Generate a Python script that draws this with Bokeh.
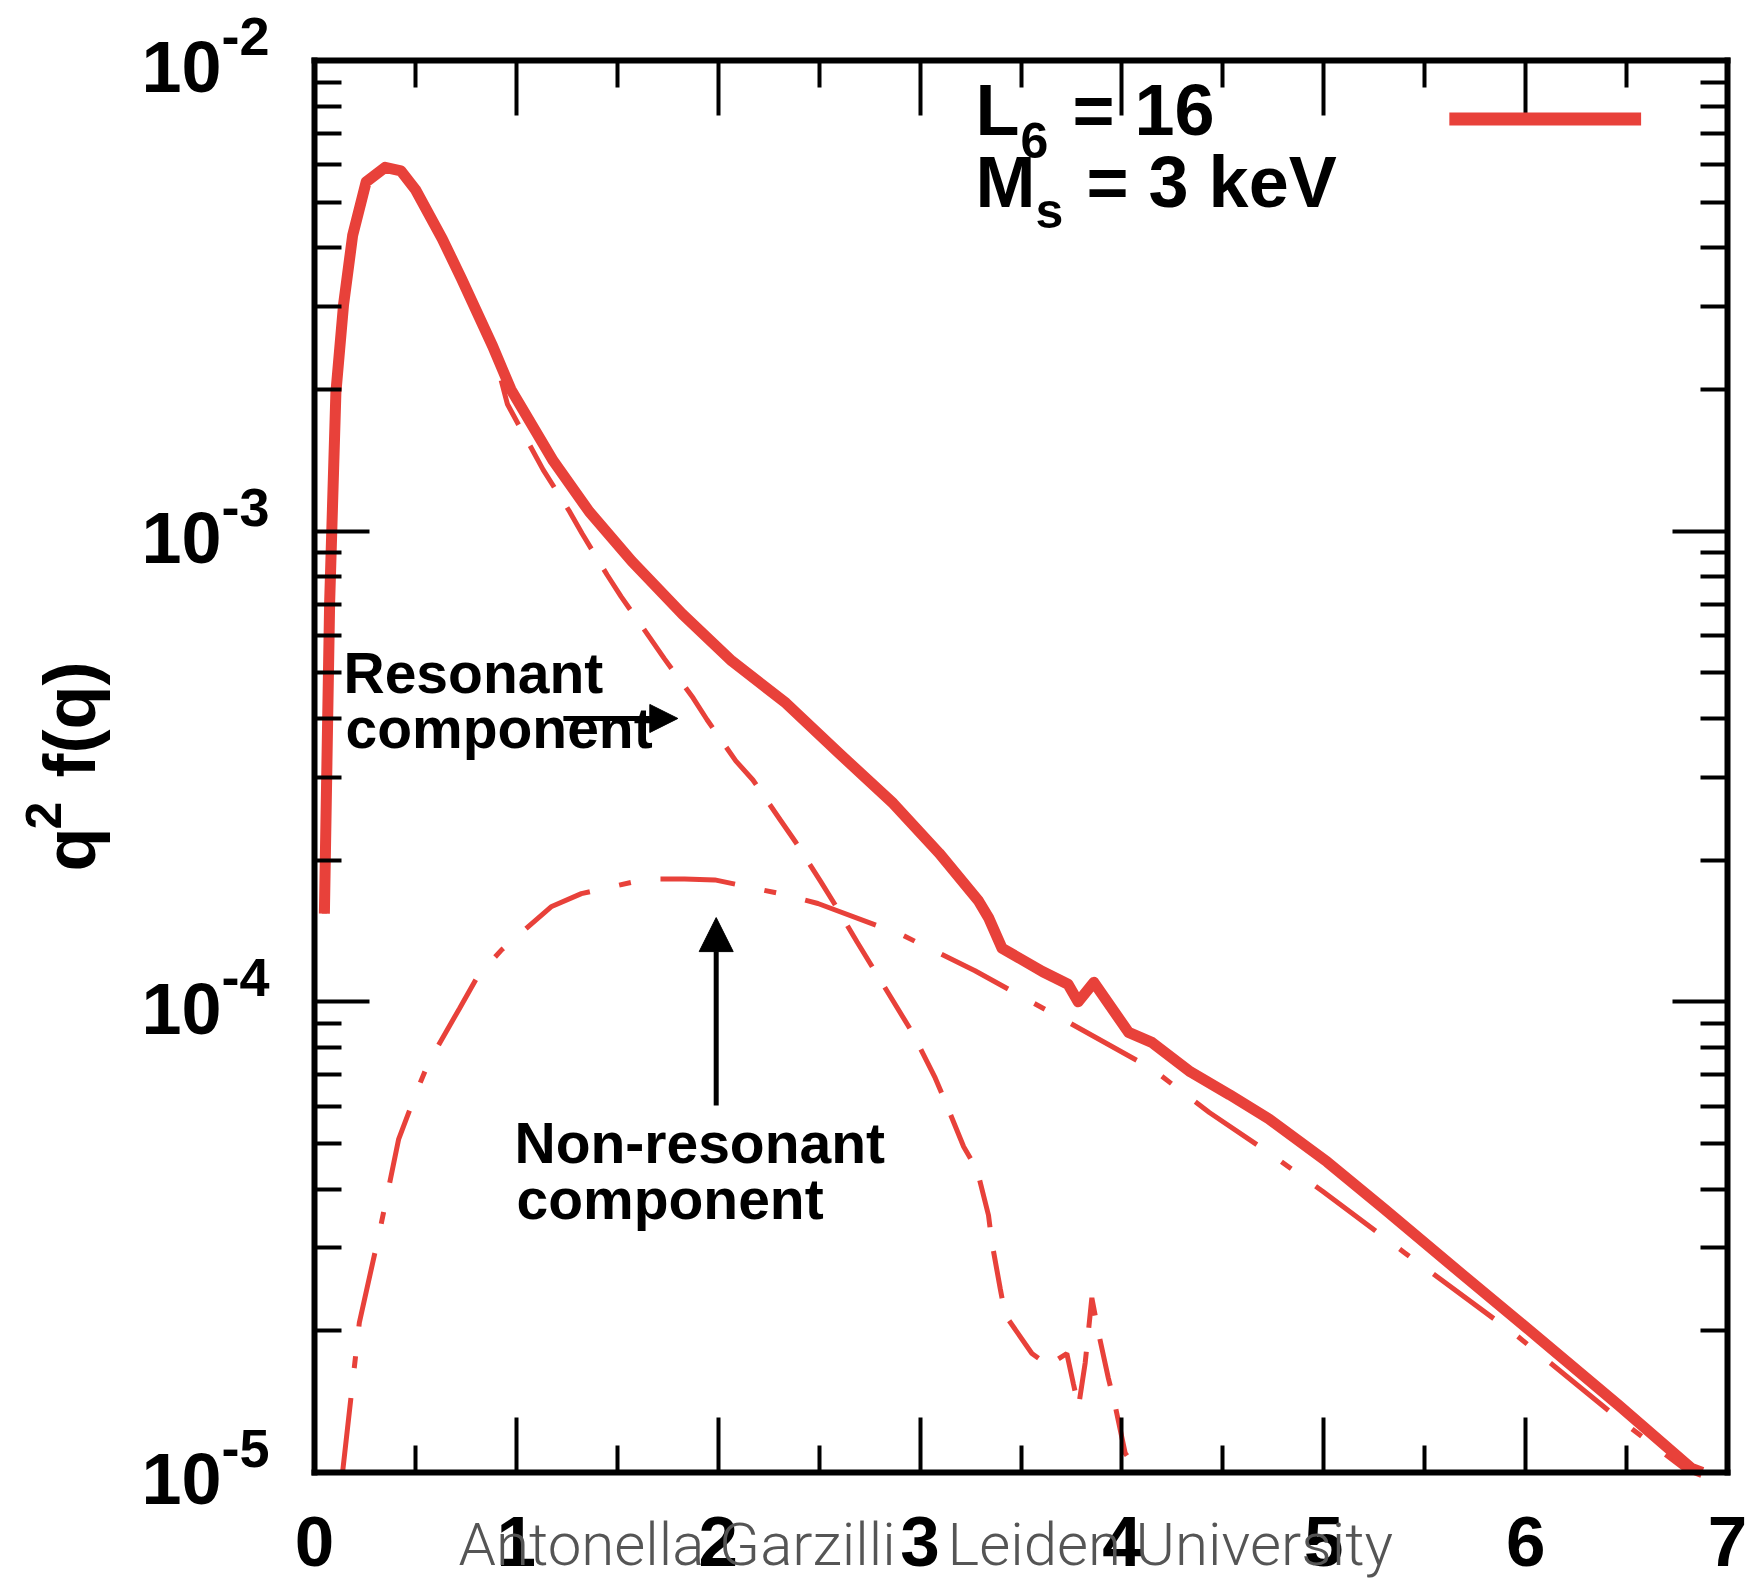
import math
from bokeh.plotting import figure
from bokeh.models import (FixedTicker, LinearAxis, LogAxis, Range1d, Label, Arrow,
                          NormalHead, CustomJSTickFormatter)
from bokeh.embed import file_html
from bokeh.resources import INLINE

# ---------------- data ----------------
q_total = [0.049, 0.075, 0.106, 0.144, 0.189, 0.256, 0.350, 0.428, 0.500, 0.633,
           0.728, 0.883, 0.973, 1.183, 1.361, 1.572, 1.822, 2.067, 2.336, 2.600,
           2.867, 3.094, 3.289, 3.339, 3.406, 3.606, 3.733, 3.783, 3.861, 4.033,
           4.148, 4.339, 4.533, 4.728, 5.017, 5.300, 5.689, 6.072, 6.461, 6.822, 6.875]
f_total = [1.54e-4, 7.05e-4, 1.97e-3, 3.03e-3, 4.25e-3, 5.52e-3, 5.93e-3, 5.83e-3, 5.32e-3, 4.18e-3,
           3.44e-3, 2.47e-3, 2.00e-3, 1.41e-3, 1.10e-3, 8.63e-4, 6.67e-4, 5.30e-4, 4.31e-4, 3.37e-4,
           2.64e-4, 2.07e-4, 1.64e-4, 1.51e-4, 1.30e-4, 1.16e-4, 1.09e-4, 1.00e-4, 1.10e-4, 8.61e-5,
           8.20e-5, 7.10e-5, 6.35e-5, 5.64e-5, 4.57e-5, 3.63e-5, 2.63e-5, 1.92e-5, 1.39e-5, 1.02e-5, 1.0e-5]

q_res = [0.049, 0.075, 0.106, 0.144, 0.189, 0.256, 0.350, 0.428, 0.500, 0.633,
         0.728, 0.883, 0.956, 1.133, 1.264, 1.327, 1.450, 1.519, 1.661, 1.733,
         1.876, 1.944, 2.087, 2.172, 2.306, 2.385, 2.508, 2.582, 2.688, 2.960,
         3.075, 3.124, 3.216, 3.282, 3.339, 3.356, 3.397, 3.422, 3.554, 3.636,
         3.727, 3.760, 3.785, 3.818, 3.851, 3.884, 3.933, 3.966, 4.016, 4.080]
f_res = [1.54e-4, 7.05e-4, 1.97e-3, 3.03e-3, 4.25e-3, 5.52e-3, 5.93e-3, 5.83e-3, 5.32e-3, 4.18e-3,
         3.44e-3, 2.45e-3, 1.86e-3, 1.35e-3, 1.10e-3, 9.86e-4, 8.07e-4, 7.26e-4, 5.94e-4, 5.36e-4,
         4.42e-4, 3.98e-4, 3.25e-4, 2.96e-4, 2.44e-4, 2.18e-4, 1.80e-4, 1.60e-4, 1.34e-4, 8.63e-5,
         6.89e-5, 6.15e-5, 4.92e-5, 4.40e-5, 3.52e-5, 3.08e-5, 2.46e-5, 2.16e-5, 1.79e-5, 1.69e-5,
         1.79e-5, 1.54e-5, 1.38e-5, 1.71e-5, 2.35e-5, 1.98e-5, 1.585e-5, 1.39e-5, 1.10e-5, 1.0e-5]

q_nonres = [0.139, 0.222, 0.322, 0.417, 0.511, 0.567, 0.717, 0.811, 0.928, 1.172,
            1.322, 1.644, 1.833, 1.983, 2.306, 2.494, 2.911, 3.272, 3.717, 4.148,
            4.433, 4.728, 4.994, 5.400, 5.956, 6.461, 6.789, 6.812]
f_nonres = [1.0e-5, 2.08e-5, 3.24e-5, 5.11e-5, 6.53e-5, 7.46e-5, 9.66e-5, 1.138e-4, 1.291e-4, 1.592e-4,
            1.698e-4, 1.824e-4, 1.824e-4, 1.816e-4, 1.698e-4, 1.618e-4, 1.387e-4, 1.164e-4, 9.14e-5, 7.21e-5,
            5.82e-5, 4.78e-5, 3.96e-5, 2.93e-5, 1.954e-5, 1.30e-5, 1.016e-5, 1.0e-5]

x_ticks = [0, 1, 2, 3, 4, 5, 6, 7]
x_tick_labels = ["0", "1", "2", "3", "4", "5", "6", "7"]
x_minor = [0.5, 1.5, 2.5, 3.5, 4.5, 5.5, 6.5]
y_ticks = [1e-5, 1e-4, 1e-3, 1e-2]
y_tick_exponents = ["-5", "-4", "-3", "-2"]
y_minor = [m * d for d in (1e-5, 1e-4, 1e-3) for m in range(2, 10)]

X_LO, X_HI = 0.0, 7.0
Y_LO, Y_HI = 1e-5, 1e-2

RED = "#E8413A"
FONT = "Liberation Sans"

# ---------------- layout: plot box position on the canvas (pixels) ----------------
W, H = 1760, 1584
BOX_L, BOX_R, BOX_T, BOX_B = 314, 1727, 60, 1472
px_per_x = (BOX_R - BOX_L) / (X_HI - X_LO)
px_per_dec = (BOX_B - BOX_T) / (math.log10(Y_HI) - math.log10(Y_LO))
x_range = Range1d(X_LO - BOX_L / px_per_x, X_HI + (W - BOX_R) / px_per_x)
y_range = Range1d(10 ** (math.log10(Y_LO) - (H - BOX_B) / px_per_dec),
                  10 ** (math.log10(Y_HI) + BOX_T / px_per_dec))

p = figure(width=W, height=H, x_range=x_range, y_range=y_range, y_axis_type="log",
           x_axis_location=None, y_axis_location=None, min_border=0,
           output_backend="svg", toolbar_location=None)
p.grid.visible = False
p.outline_line_color = None
p.background_fill_color = "white"
p.border_fill_color = "white"

blank = CustomJSTickFormatter(code="return ''")


def style_axis(ax):
    ax.axis_line_width = 6
    ax.axis_line_color = "black"
    ax.axis_line_cap = "square"
    ax.major_tick_in = 55
    ax.major_tick_out = 0
    ax.minor_tick_in = 27
    ax.minor_tick_out = 0
    ax.major_tick_line_width = 4
    ax.minor_tick_line_width = 4
    ax.major_tick_line_color = "black"
    ax.minor_tick_line_color = "black"
    return ax


xticker = FixedTicker(ticks=x_ticks, minor_ticks=x_minor)
yticker = FixedTicker(ticks=y_ticks, minor_ticks=y_minor)

bottom = style_axis(LinearAxis(fixed_location=Y_LO, bounds=(X_LO, X_HI), ticker=xticker))
bottom.major_label_overrides = {t: s for t, s in zip(x_ticks, x_tick_labels)}
bottom.major_label_text_font = FONT
bottom.major_label_text_font_style = "bold"
bottom.major_label_text_font_size = "71px"
bottom.major_label_text_color = "black"
bottom.major_label_standoff = 44
p.add_layout(bottom, "below")

top = style_axis(LinearAxis(fixed_location=Y_HI, bounds=(X_LO, X_HI), ticker=xticker, formatter=blank))
p.add_layout(top, "above")
left = style_axis(LogAxis(fixed_location=X_LO, bounds=(Y_LO, Y_HI), ticker=yticker, formatter=blank))
p.add_layout(left, "left")
right = style_axis(LogAxis(fixed_location=X_HI, bounds=(Y_LO, Y_HI), ticker=yticker, formatter=blank))
p.add_layout(right, "right")

# ---------------- curves ----------------
p.line(q_nonres, f_nonres, line_color=RED, line_width=5, line_dash="75 30 12 30")
p.line(q_res, f_res, line_color=RED, line_width=5, line_dash="48 24")
p.line(q_total, f_total, line_color=RED, line_width=11, line_join="round")

K = 0.35  # baseline correction (fraction of font size)


def lab(text, x, y, dx, dy, size, align="left", rotated=False, color="black",
        font=FONT, style="bold"):
    """dx, dy: pixel offset (right / down) of the text baseline start from data point (x, y)."""
    if rotated:
        xo, yo, ang = dx - K * size, -dy, math.pi / 2
    else:
        xo, yo, ang = dx, -dy + K * size, 0.0
    p.add_layout(Label(x=x, y=y, x_offset=xo, y_offset=yo, text=text,
                       text_font=font, text_font_size=f"{size}px", text_font_style=style,
                       text_color=color, text_align=align, text_baseline="alphabetic",
                       angle=ang))


# y tick labels 10^n
for v, e in zip(y_ticks, y_tick_exponents):
    lab("10", X_LO, v, -93, 32, 72, align="right")
    lab(e, X_LO, v, -93, -5, 54)

# y axis label  q^2 f(q)
lab("q", X_LO, Y_LO, -219, -601, 72, rotated=True)
lab("2", X_LO, Y_LO, -254, -643, 50, rotated=True)
lab("f(q)", X_LO, Y_LO, -219, -695, 72, rotated=True)

# legend
lab("L", X_LO, Y_HI, 661, 75, 72)
lab("6", X_LO, Y_HI, 706, 97, 50)
lab("= 16", X_LO, Y_HI, 758, 75, 72)
lab("M", X_LO, Y_HI, 661, 147, 72)
lab("s", X_LO, Y_HI, 721, 168, 50)
lab("= 3 keV", X_LO, Y_HI, 772, 147, 72)
p.add_layout(Arrow(start=None, end=None, x_start=5.622, y_start=7.51e-3,
                   x_end=6.572, y_end=7.51e-3, line_color=RED, line_width=13))

# annotations
lab("Resonant", X_LO, Y_HI, 29, 632, 57)
lab("component", X_LO, Y_HI, 31, 687, 57)
p.add_layout(Arrow(end=NormalHead(size=28, fill_color="black", line_color="black"),
                   x_start=1.233, y_start=4.0e-4, x_end=1.80, y_end=4.0e-4,
                   line_color="black", line_width=5))

lab("Non-resonant", X_LO, Y_HI, 200, 1102, 57)
lab("component", X_LO, Y_HI, 202, 1158, 57)
p.add_layout(Arrow(end=NormalHead(size=34, fill_color="black", line_color="black"),
                   x_start=1.99, y_start=6.02e-5, x_end=1.99, y_end=1.51e-4,
                   line_color="black", line_width=5))

# watermark
lab("Antonella Garzilli", X_LO, Y_LO, 144, 93, 60, color="#555555", font="Roboto Light", style="normal")
lab("Leiden University", X_LO, Y_LO, 633, 93, 60, color="#555555", font="Roboto Light", style="normal")

open("out.html", "w").write(file_html(p, INLINE))
